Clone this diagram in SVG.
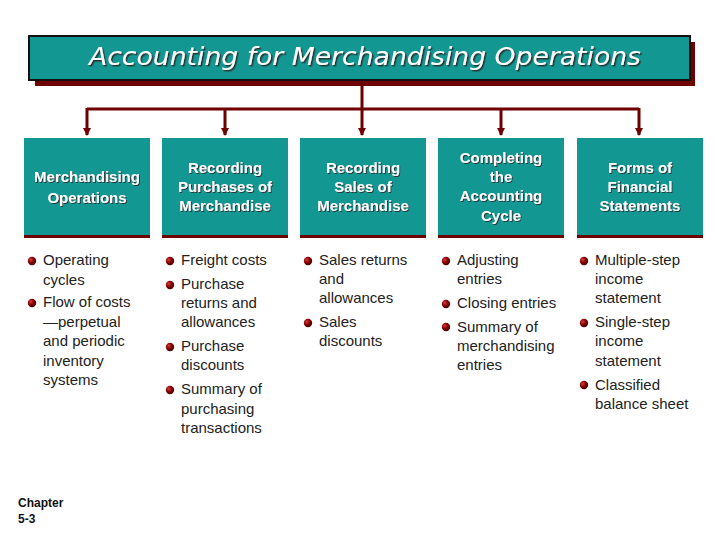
<svg xmlns="http://www.w3.org/2000/svg" width="720" height="540" viewBox="0 0 720 540">
<defs>
<radialGradient id="ball" cx="0.35" cy="0.35" r="0.7">
<stop offset="0" stop-color="#d04040"/>
<stop offset="0.5" stop-color="#8a0000"/>
<stop offset="1" stop-color="#400000"/>
</radialGradient>
<marker id="arr" markerWidth="8" markerHeight="8" refX="7" refY="4" orient="auto" markerUnits="userSpaceOnUse" viewBox="0 0 8 8">
<path d="M0,0 L8,4 L0,8 Z" fill="#6e0000"/>
</marker>
<filter id="ts" x="-5%" y="-20%" width="110%" height="140%">
<feDropShadow dx="1.5" dy="1.5" stdDeviation="0" flood-color="#2a2a2a" flood-opacity="0.9"/>
</filter>
<filter id="ts2" x="-5%" y="-20%" width="110%" height="140%">
<feDropShadow dx="1" dy="1" stdDeviation="0" flood-color="#2a2a2a" flood-opacity="0.85"/>
</filter>
</defs>
<style>
.box{fill:#139793}
.shadow{fill:#6e0000}
.bt{font-family:"Liberation Sans",Arial,sans-serif;font-weight:bold;font-size:15px;fill:#fff;text-anchor:middle}
.li{font-family:"Liberation Sans",Arial,sans-serif;font-size:15px;fill:#222}
.con{stroke:#6e0000;stroke-width:3;fill:none}
</style>
<rect width="720" height="540" fill="#fff"/>

<g id="title">
<rect x="35" y="42" width="660" height="44" class="shadow"/>
<rect x="29" y="36" width="661" height="44" fill="#139793" stroke="#111" stroke-width="2"/>
<text x="365" y="65" font-family="'DejaVu Sans',sans-serif" font-style="italic" font-size="25" fill="#fff" text-anchor="middle" textLength="552" lengthAdjust="spacingAndGlyphs" filter="url(#ts)">Accounting for Merchandising Operations</text>
</g>

<g id="connectors">
<path class="con" d="M362,86 V109"/>
<path class="con" d="M87,109 H639"/>
<path class="con" d="M87,108 V135" marker-end="url(#arr)"/>
<path class="con" d="M225,109 V135" marker-end="url(#arr)"/>
<path class="con" d="M362,109 V135" marker-end="url(#arr)"/>
<path class="con" d="M501,109 V135" marker-end="url(#arr)"/>
<path class="con" d="M639,108 V135" marker-end="url(#arr)"/>
</g>

<g id="box1">
<rect x="24" y="138" width="126" height="97" class="box"/>
<rect x="24" y="235" width="126" height="3" class="shadow"/>
<g filter="url(#ts2)">
<text class="bt" x="87" y="182" font-size="14">Merchandising</text>
<text class="bt" x="87" y="203" font-size="14">Operations</text>
</g>
</g>

<g id="box2">
<rect x="162" y="138" width="126" height="97" class="box"/>
<rect x="162" y="235" width="126" height="3" class="shadow"/>
<g filter="url(#ts2)">
<text class="bt" x="225" y="173">Recording</text>
<text class="bt" x="225" y="192">Purchases of</text>
<text class="bt" x="225" y="211">Merchandise</text>
</g>
</g>

<g id="box3">
<rect x="300" y="138" width="126" height="97" class="box"/>
<rect x="300" y="235" width="126" height="3" class="shadow"/>
<g filter="url(#ts2)">
<text class="bt" x="363" y="173">Recording</text>
<text class="bt" x="363" y="192">Sales of</text>
<text class="bt" x="363" y="211">Merchandise</text>
</g>
</g>

<g id="box4">
<rect x="438" y="138" width="126" height="97" class="box"/>
<rect x="438" y="235" width="126" height="3" class="shadow"/>
<g filter="url(#ts2)">
<text class="bt" x="501" y="163">Completing</text>
<text class="bt" x="501" y="182">the</text>
<text class="bt" x="501" y="201">Accounting</text>
<text class="bt" x="501" y="221">Cycle</text>
</g>
</g>

<g id="box5">
<rect x="577" y="138" width="126" height="97" class="box"/>
<rect x="577" y="235" width="126" height="3" class="shadow"/>
<g filter="url(#ts2)">
<text class="bt" x="640" y="173">Forms of</text>
<text class="bt" x="640" y="192">Financial</text>
<text class="bt" x="640" y="211">Statements</text>
</g>
</g>

<g id="list1">
<circle cx="32" cy="261" r="4.2" fill="url(#ball)"/>
<circle cx="32" cy="303" r="4.2" fill="url(#ball)"/>
<text class="li" x="43" y="265">Operating</text>
<text class="li" x="43" y="285">cycles</text>
<text class="li" x="43" y="307">Flow of costs</text>
<text class="li" x="43" y="327">—perpetual</text>
<text class="li" x="43" y="346">and periodic</text>
<text class="li" x="43" y="366">inventory</text>
<text class="li" x="43" y="385">systems</text>
</g>

<g id="list2">
<circle cx="170" cy="261" r="4.2" fill="url(#ball)"/>
<circle cx="170" cy="285" r="4.2" fill="url(#ball)"/>
<circle cx="170" cy="347" r="4.2" fill="url(#ball)"/>
<circle cx="170" cy="390" r="4.2" fill="url(#ball)"/>
<text class="li" x="181" y="265">Freight costs</text>
<text class="li" x="181" y="289">Purchase</text>
<text class="li" x="181" y="308">returns and</text>
<text class="li" x="181" y="327">allowances</text>
<text class="li" x="181" y="351">Purchase</text>
<text class="li" x="181" y="370">discounts</text>
<text class="li" x="181" y="394">Summary of</text>
<text class="li" x="181" y="414">purchasing</text>
<text class="li" x="181" y="433">transactions</text>
</g>

<g id="list3">
<circle cx="308" cy="261" r="4.2" fill="url(#ball)"/>
<circle cx="308" cy="323" r="4.2" fill="url(#ball)"/>
<text class="li" x="319" y="265">Sales returns</text>
<text class="li" x="319" y="284">and</text>
<text class="li" x="319" y="303">allowances</text>
<text class="li" x="319" y="327">Sales</text>
<text class="li" x="319" y="346">discounts</text>
</g>

<g id="list4">
<circle cx="446" cy="261" r="4.2" fill="url(#ball)"/>
<circle cx="446" cy="304" r="4.2" fill="url(#ball)"/>
<circle cx="446" cy="327" r="4.2" fill="url(#ball)"/>
<text class="li" x="457" y="265">Adjusting</text>
<text class="li" x="457" y="284">entries</text>
<text class="li" x="457" y="308">Closing entries</text>
<text class="li" x="457" y="332">Summary of</text>
<text class="li" x="457" y="351">merchandising</text>
<text class="li" x="457" y="370">entries</text>
</g>

<g id="list5">
<circle cx="584" cy="261" r="4.2" fill="url(#ball)"/>
<circle cx="584" cy="323" r="4.2" fill="url(#ball)"/>
<circle cx="584" cy="385" r="4.2" fill="url(#ball)"/>
<text class="li" x="595" y="265">Multiple-step</text>
<text class="li" x="595" y="284">income</text>
<text class="li" x="595" y="303">statement</text>
<text class="li" x="595" y="327">Single-step</text>
<text class="li" x="595" y="346">income</text>
<text class="li" x="595" y="366">statement</text>
<text class="li" x="595" y="390">Classified</text>
<text class="li" x="595" y="409">balance sheet</text>
</g>

<g id="footer">
<text x="18" y="507" font-family="'Liberation Sans',Arial,sans-serif" font-weight="bold" font-size="12" fill="#111">Chapter</text>
<text x="18" y="523" font-family="'Liberation Sans',Arial,sans-serif" font-weight="bold" font-size="12" fill="#111">5-3</text>
</g>
</svg>
